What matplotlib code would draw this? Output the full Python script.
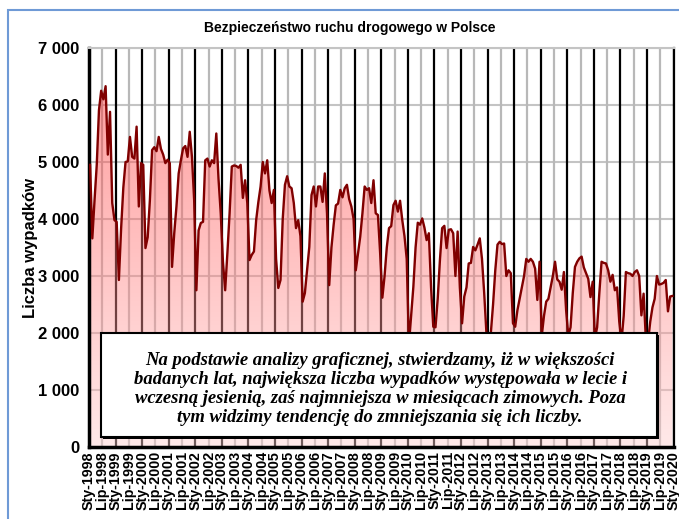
import numpy as np
import matplotlib.pyplot as plt
from matplotlib.patches import Rectangle
from matplotlib.colors import LinearSegmentedColormap

plt.rcParams['font.family'] = ['Liberation Sans', 'DejaVu Sans']

# monthly number of road accidents (Sty..Gru)
w1998 = [4950, 3660, 4330, 4950, 5910, 6250, 6100, 6330, 5130, 5880, 4280, 3980]
w1999 = [3950, 2930, 3830, 4550, 5000, 5010, 5440, 5090, 5060, 5620, 4220, 4980]
w2000 = [4950, 3490, 3680, 4330, 5210, 5260, 5190, 5440, 5230, 5130, 4980, 5040]
w2001 = [4980, 3160, 3750, 4220, 4800, 5030, 5240, 5280, 5090, 5530, 5090, 4330]
w2002 = [2750, 3800, 3930, 3950, 5030, 5060, 4920, 5030, 4980, 5500, 4700, 4100]
w2003 = [3250, 2750, 3400, 4100, 4920, 4940, 4930, 4900, 4950, 4370, 4680, 4280]
w2004 = [3280, 3370, 3430, 3980, 4300, 4570, 5000, 4800, 5030, 4500, 4280, 4510]
w2005 = [3300, 2790, 2930, 4000, 4600, 4750, 4570, 4540, 4280, 3840, 3980, 3700]
w2006 = [2550, 2700, 3100, 3510, 4420, 4570, 4220, 4570, 4570, 4300, 4800, 4100]
w2007 = [2840, 3500, 3900, 4240, 4270, 4510, 4380, 4540, 4600, 4350, 4220, 4000]
w2008 = [3100, 3400, 3690, 4100, 4570, 4510, 4540, 4280, 4680, 4100, 4070, 3400]
w2009 = [2620, 3000, 3500, 3840, 3875, 4245, 4320, 4130, 4320, 3980, 3700, 3300]
w2010 = [1800, 2300, 2810, 3500, 3935, 3900, 4010, 3850, 3630, 3750, 2800, 2110]
w2011 = [2100, 2600, 3280, 3840, 3880, 3490, 3810, 3820, 3750, 3000, 3780, 2800]
w2012 = [2170, 2640, 2800, 3220, 3230, 3510, 3450, 3550, 3660, 3300, 2700, 2000]
w2013 = [1800, 2000, 2500, 3100, 3550, 3600, 3560, 3570, 3000, 3100, 3050, 2170]
w2014 = [2110, 2400, 2600, 2800, 3000, 3300, 3250, 3300, 3250, 3130, 2580, 3250]
w2015 = [1950, 2300, 2550, 2600, 2800, 3000, 3250, 2940, 2900, 2760, 3070, 2400]
w2016 = [1950, 2100, 2700, 3160, 3250, 3310, 3340, 3150, 3050, 2950, 2630, 2900]
w2017 = [1900, 2100, 2700, 3250, 3230, 3220, 3100, 2900, 3020, 2750, 2800, 2200]
w2018 = [1850, 2300, 3070, 3050, 3040, 3000, 3070, 3100, 3000, 2310, 2690, 1900]
w2019 = [1850, 2200, 2450, 2600, 3000, 2850, 2860, 2880, 2930, 2380, 2640, 2650]

lata = list(range(1998, 2021))
miesiace_etykiety = ['Sty', 'Lip']

wypadki = np.array(w1998 + w1999 + w2000 + w2001 + w2002 + w2003 + w2004 + w2005
                   + w2006 + w2007 + w2008 + w2009 + w2010 + w2011 + w2012 + w2013
                   + w2014 + w2015 + w2016 + w2017 + w2018 + w2019)
n = len(wypadki)
x = np.arange(n) + 0.5

etykiety = []
for r in lata:
    for m in miesiace_etykiety:
        etykiety.append(f'{m}-{r}')
etykiety = etykiety[:-1]  # ends with Sty-2020
pozycje = np.arange(len(etykiety)) * 6

fig = plt.figure(figsize=(6.79, 5.19), dpi=100)
ax = fig.add_axes([89 / 679, 72 / 519, 584.5 / 679, 399 / 519])
ax.set_xlim(0, n)
ax.set_ylim(0, 7000)

# grid
for v in range(1000, 7001, 1000):
    ax.axhline(v, color='#c4c4c4', lw=1.5, zorder=1)
for p in pozycje:
    if p % 12 == 0:
        ax.axvline(p, color='black', lw=1.6, zorder=1)
    else:
        ax.axvline(p, color='#b8b8b8', lw=1.6, zorder=1)

# gradient fill under the curve
poly = ax.fill_between(x, wypadki, 0, color='none', lw=0)
cmap = LinearSegmentedColormap.from_list('roz', ['#ffcfcf', '#ff1a1a'])
grad = np.linspace(0, 1, 256).reshape(-1, 1)
img = ax.imshow(grad, extent=[0, n, 0, 7000], origin='lower', aspect='auto',
                cmap=cmap, alpha=0.45, zorder=2)
img.set_clip_path(poly.get_paths()[0], transform=ax.transData)

ax.plot(x, wypadki, color='#800000', lw=1.7, zorder=3)

ax.set_yticks(range(0, 7001, 1000))
ax.set_yticklabels([f'{v:,}'.replace(',', ' ') for v in range(0, 7001, 1000)],
                   fontsize=12, fontweight='bold')
ax.set_xticks(pozycje)
ax.set_xticklabels(etykiety, rotation=90, fontsize=10.3, fontweight='bold')
ax.tick_params(axis='y', length=0, pad=7)
ax.tick_params(axis='x', length=0, pad=3)
ax.set_ylabel('Liczba wypadków', fontsize=12, fontweight='bold', labelpad=0)

for s in ['left', 'bottom']:
    ax.spines[s].set_linewidth(2.5)
    ax.spines[s].set_color('black')
ax.spines['right'].set_linewidth(1.6)
ax.spines['top'].set_color('#c4c4c4')
ax.spines['top'].set_linewidth(1.5)

fig.text(350 / 679, 1 - 28 / 519, 'Bezpieczeństwo ruchu drogowego w Polsce',
         ha='center', va='center', fontsize=10, fontweight='bold')

# comment box
fig.add_artist(Rectangle((103 / 679, (519 - 439) / 519), 556 / 679, 104 / 519,
                         transform=fig.transFigure, facecolor='black',
                         edgecolor='none', zorder=9))
fig.add_artist(Rectangle((101 / 679, (519 - 437) / 519), 556 / 679, 104 / 519,
                         transform=fig.transFigure, facecolor='white',
                         edgecolor='black', lw=1.5, zorder=10))
opis = ('Na podstawie analizy graficznej, stwierdzamy, iż w większości\n'
        'badanych lat, największa liczba wypadków występowała w lecie i\n'
        'wczesną jesienią, zaś najmniejsza w miesiącach zimowych. Poza\n'
        'tym widzimy tendencję do zmniejszania się ich liczby.')
fig.text(380 / 679, (519 - 389) / 519, opis, ha='center', va='center',
         fontsize=13.4, fontweight='bold', fontstyle='italic',
         family=['Liberation Serif', 'DejaVu Serif'], linespacing=1.17, zorder=11)

# outer blue frame
fig.add_artist(Rectangle((8 / 679, -0.05), 1.1, (519 - 10) / 519 + 0.05,
                         transform=fig.transFigure, fill=False,
                         edgecolor='#6f9ad6', lw=1.5))

fig.savefig('out.png', dpi=100)
